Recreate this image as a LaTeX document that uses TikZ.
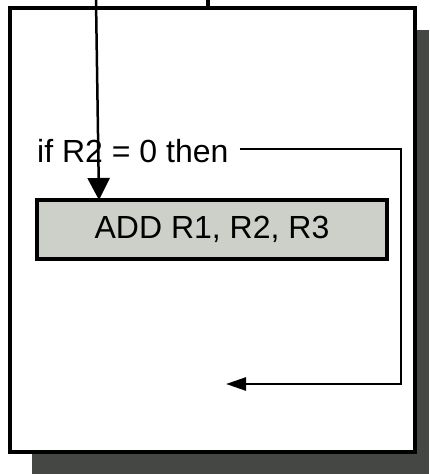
\documentclass[tikz,border=0pt]{standalone}
\usepackage{fontspec}
\setmainfont{Liberation Sans}
\usetikzlibrary{arrows.meta}
\definecolor{shadowgray}{HTML}{454744}
\definecolor{boxgray}{HTML}{CDD0C8}
\begin{document}
\begin{tikzpicture}[x=1pt,y=-1pt,
    frame/.style={draw,line width=3.5pt,fill=white},
    instr/.style={draw,line width=3.5pt,fill=boxgray,minimum width=350pt,minimum height=59pt,inner sep=0pt},
    flow/.style={line width=2.5pt,-{Triangle[length=22pt,width=22pt]}},
    branch/.style={line width=2.5pt,-{Triangle[length=20pt,width=13pt]}},
    big/.style={font=\fontsize{32}{34}\selectfont}]
    \useasboundingbox (0,0) rectangle (429,474);
    % page with its shadow
    \fill[shadowgray] (32,30) rectangle (429,474);
    \draw[frame] (10,8) rectangle (415,452);

    % lines coming in from above
    \coordinate (in) at (96,0);
    \coordinate (stub) at (208,0);
    \draw[line width=4pt] (stub) -- (208,8);

    % condition and instruction
    \node[big,anchor=west,inner sep=0pt] (cond) at (37,151) {if R2 = 0 then};
    \node[instr,big] (add) at (212,229.5) {ADD R1, R2, R3};
    \coordinate (addin) at (99,200);
    \draw[flow] (in) -- (addin);

    % branch past the instruction
    \coordinate (turn) at (401,384);
    \coordinate (skip) at (226,384);
    \draw[branch] ([xshift=11pt,yshift=2pt]cond.east) -| (turn) -- (skip);
\end{tikzpicture}
\end{document}
